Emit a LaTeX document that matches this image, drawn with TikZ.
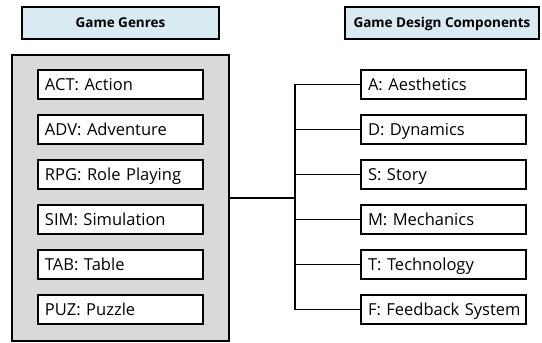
\documentclass[tikz,border=0pt]{standalone}
\usepackage{fontspec}
\setmainfont{Open Sans}
\begin{document}
\begin{tikzpicture}[x=1pt,y=-1pt,
  header/.style={draw=black,line width=1.6pt,fill=headblue,minimum width=197pt,minimum height=32pt,
    inner sep=0pt,text height=9.6pt,text depth=0pt,font=\fontsize{13.5}{15}\selectfont\bfseries},
  item/.style={draw=black,line width=1.6pt,fill=white,minimum width=165pt,minimum height=29pt,
    inner sep=0pt,text width=151pt,align=left,text height=11.8pt,text depth=0pt,
    font=\fontsize{16.5}{18}\selectfont},
  link/.style={line width=1.6pt}]
\definecolor{headblue}{HTML}{DAEAF3}
\definecolor{panelgrey}{HTML}{D9D9D9}
\useasboundingbox (0,0) rectangle (542,343);
% column headers
\node[header] (hg) at (120.5,23) {Game Genres};
\node[header,minimum width=194pt] (hd) at (442,23) {Game Design Components};
% grey panel holding the genres
\node[draw=black,line width=1.6pt,fill=panelgrey,minimum width=217pt,minimum height=286pt,inner sep=0pt]
  (panel) at (120.5,198) {};
% genres
\node[item] (act) at (120.5,84.5) {ACT: Action};
\node[item] (adv) at (120.5,129.5) {ADV: Adventure};
\node[item] (rpg) at (120.5,174.5) {RPG: Role Playing};
\node[item] (sim) at (120.5,219.5) {SIM: Simulation};
\node[item] (tab) at (120.5,264.5) {TAB: Table};
\node[item] (puz) at (120.5,309.5) {PUZ: Puzzle};
% design components
\node[item] (aes) at (443.5,84.5) {A: Aesthetics};
\node[item] (dyn) at (443.5,129.5) {D: Dynamics};
\node[item] (sto) at (443.5,174.5) {S: Story};
\node[item] (mec) at (443.5,219.5) {M: Mechanics};
\node[item] (tec) at (443.5,264.5) {T: Technology};
\node[item] (fbs) at (443.5,309.5) {\mbox{F: Feedback System}};
% tree connector
\coordinate (j) at (295,198);
\draw[link] (panel.east) -- (j);
\draw[link] (aes.west) -| (j) |- (fbs.west);
\foreach \n in {dyn,sto,mec,tec}
  \draw[link] (\n.west) -- (j |- \n.west);
\end{tikzpicture}
\end{document}
